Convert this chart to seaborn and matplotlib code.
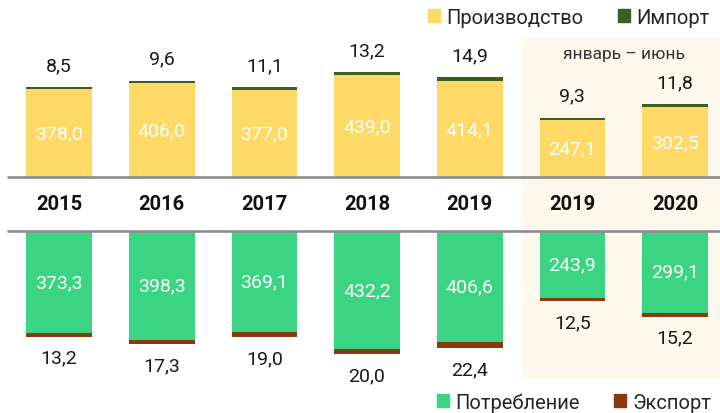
import pandas as pd
import seaborn as sns
import matplotlib.pyplot as plt
from matplotlib.patches import Patch, Rectangle
from matplotlib.transforms import blended_transform_factory

sns.set_style("white")
plt.rcParams['font.family'] = ['Roboto', 'DejaVu Sans']

# data, тыс. т
keys = ["2015", "2016", "2017", "2018", "2019", "2019 H1", "2020 H1"]
year_labels = ["2015", "2016", "2017", "2018", "2019", "2019", "2020"]
production = [378.0, 406.0, 377.0, 439.0, 414.1, 247.1, 302.5]
imports = [8.5, 9.6, 11.1, 13.2, 14.9, 9.3, 11.8]
consumption = [373.3, 398.3, 369.1, 432.2, 406.6, 243.9, 299.1]
exports = [13.2, 17.3, 19.0, 20.0, 22.4, 12.5, 15.2]

df = pd.DataFrame({"key": keys, "prod": production, "imp": imports,
                   "cons": consumption, "exp": exports})
df["top_total"] = df["prod"] + df["imp"]
df["bot_total"] = df["cons"] + df["exp"]

c_prod = "#FED966"
c_imp = "#3B5E21"
c_cons = "#3AD483"
c_exp = "#8B3A0E"
c_line = "#8C8C8C"
fs = 14

W, H = 720, 414
fig = plt.figure(figsize=(W / 100, H / 100), dpi=100)
ax_top = fig.add_axes([0, 236 / H, 1, 178 / H])
ax_bot = fig.add_axes([0, 0, 1, 182 / H])

for ax in (ax_top, ax_bot):
    ax.set_facecolor("none")

bar_kw = dict(order=keys, saturation=1, width=0.64, errorbar=None, linewidth=0)
# top: production + import
sns.barplot(data=df, x="key", y="top_total", color=c_imp, ax=ax_top, **bar_kw)
sns.barplot(data=df, x="key", y="prod", color=c_prod, ax=ax_top, **bar_kw)
# bottom: consumption + export (downwards)
sns.barplot(data=df, x="key", y="bot_total", color=c_exp, ax=ax_bot, **bar_kw)
sns.barplot(data=df, x="key", y="cons", color=c_cons, ax=ax_bot, **bar_kw)

ax_top.set_ylim(0, 178 / 0.232)
ax_bot.set_ylim(182 / 0.273, 0)

for ax in (ax_top, ax_bot):
    ax.set_xlim(-0.575, 6.438)
    ax.set_xticks([])
    ax.set_yticks([])
    ax.set_xlabel("")
    ax.set_ylabel("")
    for s in ax.spines.values():
        s.set_visible(False)
    ax.axhline(0, xmin=8 / W, xmax=1, color=c_line, lw=1.9, clip_on=False, zorder=5)


def fmt(v):
    return f"{v:.1f}".replace(".", ",")


for i, row in df.iterrows():
    ax_top.text(i, row["prod"] / 2, fmt(row["prod"]), ha="center", va="center",
                color="white", fontsize=fs)
    ax_top.annotate(fmt(row["imp"]), xy=(i, row["top_total"]), xytext=(0, 22),
                    textcoords="offset pixels", ha="center", va="center",
                    color="#1a1a1a", fontsize=fs)
    ax_bot.text(i, row["cons"] / 2, fmt(row["cons"]), ha="center", va="center",
                color="white", fontsize=fs)
    ax_bot.annotate(fmt(row["exp"]), xy=(i, row["bot_total"]), xytext=(0, -21),
                    textcoords="offset pixels", ha="center", va="center",
                    color="#1a1a1a", fontsize=fs)
    ax_top.annotate(year_labels[i], xy=(i, 0), xytext=(0, -27),
                    textcoords="offset pixels", ha="center", va="center",
                    color="#111111", fontsize=14.5, fontweight="semibold")

# shaded half-year block
tr = blended_transform_factory(ax_top.transData, fig.transFigure)
fig.patches.append(Rectangle((4.51, (H - 380) / H), 3, (380 - 38) / H,
                             transform=tr, facecolor="#FDF8EC", edgecolor="none",
                             zorder=-1))
fig.text(5.5, 1 - 55 / H, "январь – июнь", transform=tr, ha="center",
         va="center", fontsize=12.5, color="#333333")

# legends
leg_kw = dict(frameon=False, ncol=2, fontsize=14.5, handlelength=0.6,
              handleheight=0.6, handletextpad=0.3, columnspacing=1.7,
              borderpad=0, borderaxespad=0, loc="center right")
fig.legend(handles=[Patch(color=c_prod, label="Производство"),
                    Patch(color=c_imp, label="Импорт")],
           bbox_to_anchor=(709 / W, 1 - 18 / H), **leg_kw)
fig.legend(handles=[Patch(color=c_cons, label="Потребление"),
                    Patch(color=c_exp, label="Экспорт")],
           bbox_to_anchor=(711 / W, 1 - 403 / H), **leg_kw)

fig.savefig("out.png", dpi=100)
